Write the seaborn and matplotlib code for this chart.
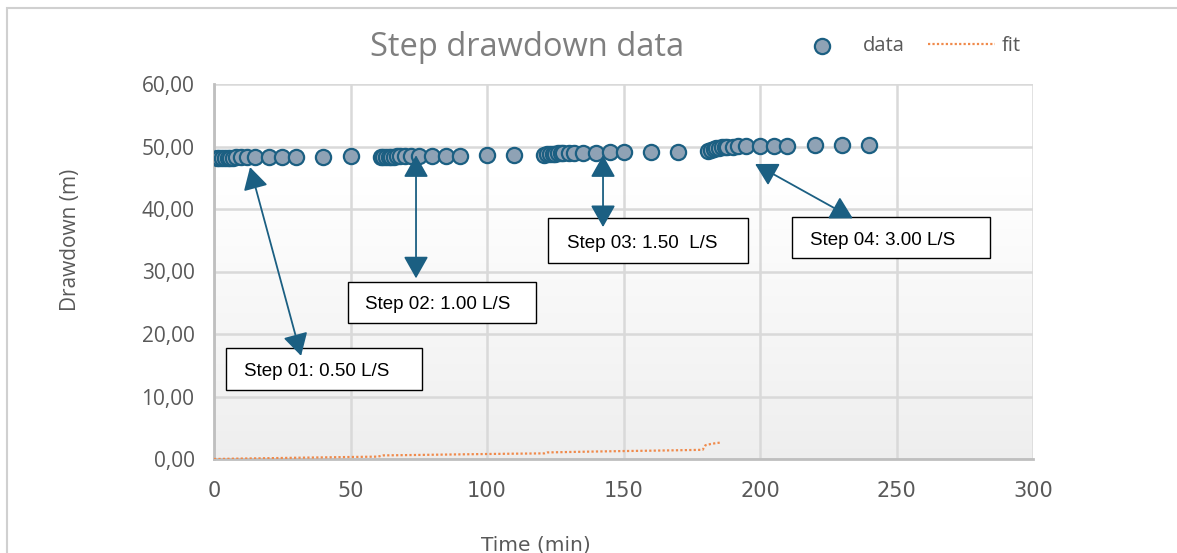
import numpy as np
import pandas as pd
import matplotlib.pyplot as plt
import seaborn as sns
from matplotlib.patches import Rectangle, FancyArrowPatch

# Observed drawdown, four pumping steps
time_min = [1, 2, 3, 4, 5, 6, 7, 8, 10, 12, 15, 20, 25, 30, 40, 50,
            61, 62, 63, 64, 65, 66, 67, 68, 70, 72, 75, 80, 85, 90, 100, 110,
            121, 122, 123, 124, 125, 126, 127, 128, 130, 132, 135, 140, 145, 150, 160, 170,
            181, 182, 183, 184, 185, 186, 187, 188, 190, 192, 195, 200, 205, 210, 220, 230, 240]
drawdown_m = [48.10, 48.10, 48.15, 48.15, 48.20, 48.20, 48.20, 48.25, 48.25, 48.30, 48.30, 48.35, 48.35, 48.40, 48.40, 48.45,
              48.30, 48.32, 48.35, 48.37, 48.40, 48.40, 48.42, 48.45, 48.45, 48.48, 48.50, 48.52, 48.55, 48.55, 48.60, 48.60,
              48.70, 48.75, 48.80, 48.85, 48.88, 48.90, 48.92, 48.95, 48.95, 49.00, 49.00, 49.02, 49.05, 49.05, 49.08, 49.10,
              49.30, 49.45, 49.60, 49.70, 49.80, 49.85, 49.90, 49.95, 50.00, 50.02, 50.05, 50.08, 50.10, 50.12, 50.20, 50.25, 50.30]

# Fitted curve
fit_time = [0, 10, 20, 30, 40, 50, 60, 62, 70, 80, 90, 100, 110, 121,
            122, 130, 140, 150, 160, 170, 179, 180, 182, 184, 186]
fit_drawdown = [0.00, 0.07, 0.13, 0.20, 0.26, 0.32, 0.38, 0.58, 0.62, 0.68, 0.74, 0.80, 0.85, 0.90,
                1.05, 1.12, 1.20, 1.27, 1.33, 1.40, 1.47, 2.20, 2.40, 2.55, 2.65]

# Step annotations: label, arrow start (on data), arrow end, box
step_labels = ['Step 01: 0.50 L/S', 'Step 02: 1.00 L/S', 'Step 03: 1.50  L/S', 'Step 04: 3.00 L/S']
arrow_top = [(13.2, 46.7), (74.0, 48.6), (142.5, 48.6), (198.2, 47.2)]
arrow_bottom = [(31.9, 16.5), (74.0, 28.9), (142.5, 37.1), (234.0, 38.5)]
box_x = [(4.4, 76.2), (49.1, 117.9), (122.3, 195.6), (211.7, 284.2)]
box_y = [(11.1, 17.7), (21.7, 28.4), (31.3, 38.5), (32.1, 38.7)]

df = pd.DataFrame({'time': time_min, 'drawdown': drawdown_m})
fit_df = pd.DataFrame({'time': fit_time, 'drawdown': fit_drawdown})

sns.set_style('white')
plt.rcParams['font.family'] = ['Open Sans', 'DejaVu Sans']

fig = plt.figure(figsize=(11.77, 5.53), dpi=100)
ax = fig.add_axes([214 / 1177, 1 - 459 / 553, 819 / 1177, 375 / 553])

# plot area gradient
grad = np.linspace(1.0, 0.0, 256).reshape(-1, 1)
grad = np.clip(grad / 0.75, 0, 1)
c_top = np.array([1.0, 1.0, 1.0])
c_bot = np.array([0.935, 0.935, 0.935])
img = c_bot + (c_top - c_bot) * grad[..., None]
img = img.reshape(256, 1, 3)
ax.imshow(img, extent=[0, 1, 0, 1], transform=ax.transAxes, aspect='auto', zorder=0)

sns.lineplot(data=fit_df, x='time', y='drawdown', ax=ax, color='#f08a4b',
             linestyle=(0, (1, 1)), linewidth=1.6, label='fit', zorder=3)
sns.scatterplot(data=df, x='time', y='drawdown', ax=ax, s=120, color='#8fa2b5',
                edgecolor='#1b5f82', linewidth=1.6, label='data', zorder=4)

ax.set_xlim(0, 300)
ax.set_ylim(0, 60)
ax.set_xticks(range(0, 301, 50))
ax.set_yticks(range(0, 61, 10))
ax.set_yticklabels([f'{v},00' for v in range(0, 61, 10)])
ax.grid(True, color='#d9d9d9', linewidth=1.8)
ax.set_axisbelow(True)
for side in ['top', 'right']:
    ax.spines[side].set_visible(False)
for side in ['left', 'bottom']:
    ax.spines[side].set_color('#bfbfbf')
    ax.spines[side].set_linewidth(2)
ax.tick_params(axis='y', length=0, pad=14, labelsize=15, labelcolor='#595959')
ax.tick_params(axis='x', length=0, pad=16, labelsize=15, labelcolor='#595959')
for lbl in ax.get_xticklabels():
    lbl.set_family(['Liberation Sans Narrow', 'DejaVu Sans'])

ax.set_xlabel('Time (min)', fontsize=14.5, color='#595959', family=['Liberation Sans Narrow', 'DejaVu Sans'])
ax.set_ylabel('Drawdown (m)', fontsize=15, color='#595959')
ax.xaxis.set_label_coords(0.393, -0.203)
ax.yaxis.set_label_coords(-0.162, 0.584)

# annotations
for lab, p0, p1, bx, by in zip(step_labels, arrow_top, arrow_bottom, box_x, box_y):
    ax.add_patch(Rectangle((bx[0], by[0]), bx[1] - bx[0], by[1] - by[0],
                           facecolor='white', edgecolor='black', linewidth=1.0, zorder=5))
    ax.text(bx[0] + 0.1 * (bx[1] - bx[0]) - 0.5, (by[0] + by[1]) / 2 - 0.4, lab, fontsize=13.5,
            family=['Liberation Sans', 'DejaVu Sans'], color='black', va='center', ha='left', zorder=6)
    ax.add_patch(FancyArrowPatch(p1, p0, arrowstyle='<|-|>,head_length=0.8,head_width=0.45',
                                 mutation_scale=17, color='#1b5f82', linewidth=1.3, zorder=6,
                                 shrinkA=0, shrinkB=0))

fig.text(527 / 1177, 1 - 48 / 553, 'Step drawdown data', fontsize=23.5, color='#7f7f7f',
         ha='center', va='center')

handles, labels = ax.get_legend_handles_labels()
order = [labels.index('data'), labels.index('fit')]
ax.legend([handles[i] for i in order], [labels[i] for i in order], ncol=2, frameon=False,
          loc='center', bbox_to_anchor=(905 / 1177, 1 - 46 / 553), bbox_transform=fig.transFigure,
          fontsize=14.5, labelcolor='#595959', handlelength=3.3, columnspacing=1.2, handletextpad=0.35)

# chart frame
fig.patches.append(Rectangle((7 / 1177, -0.1), 1.2, 1 - 8 / 553 + 0.1, transform=fig.transFigure,
                             fill=False, edgecolor='#d0d0d0', linewidth=1.5))

plt.savefig('out.png', dpi=100)
plt.close()
